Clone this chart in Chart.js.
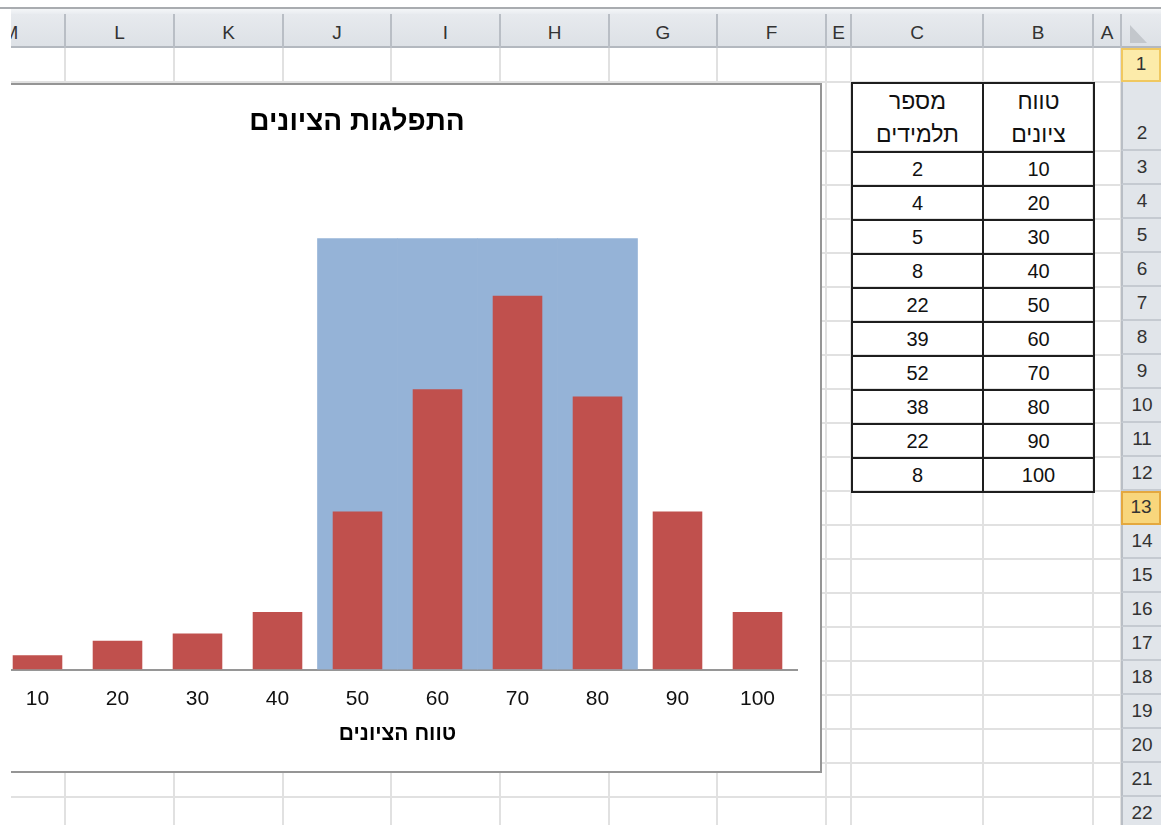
<!DOCTYPE html>
<html><head><meta charset="utf-8">
<script src="https://cdn.jsdelivr.net/npm/chart.js@4.4.1/dist/chart.umd.min.js"></script>
<style>
html,body{margin:0;padding:0;}
body{width:1161px;height:825px;overflow:hidden;background:#fff;position:relative;font-family:"Liberation Sans",Arial,"DejaVu Sans",sans-serif;}
.a{position:absolute;box-sizing:border-box;}
#tbl{position:absolute;left:851px;top:82px;border-collapse:collapse;table-layout:fixed;width:242px;}
#tbl td{border:2px solid #1e1e1e;padding:0;text-align:center;font-size:20px;color:#111;overflow:hidden;white-space:nowrap;}
#tbl td.h{vertical-align:bottom;line-height:33px;font-size:23px;}
</style></head><body>
<div id="sheet"></div>
<table id="tbl"><colgroup><col style="width:131px"><col style="width:111px"></colgroup><tbody id="tb"></tbody></table>
<div id="chartBox" class="a" style="left:-108px;top:83px;width:930px;height:690px;border:2px solid #959595;background:#fff;overflow:hidden;">
<canvas id="c" width="926" height="686"></canvas></div>
<div class="a" style="left:0;top:9px;width:11px;height:816px;background:#fff;"></div>
<script>
// ---- data ----
const gradeRanges = ['10','20','30','40','50','60','70','80','90','100'];
const studentCounts = [2, 4, 5, 8, 22, 39, 52, 38, 22, 8];
const highlightBand = [null, null, null, null, 60, 60, 60, 60, null, null];
const chartTitle = 'התפלגות הציונים';
const xAxisTitle = 'טווח הציונים';
const rangeHeader = ['טווח', 'ציונים'];
const countHeader = ['מספר', 'תלמידים'];
const columnLetters = ['M','L','K','J','I','H','G','F','E','C','B','A'];
const rowNumbers = [1,2,3,4,5,6,7,8,9,10,11,12,13,14,15,16,17,18,19,20,21,22];

// ---- sheet layout ----
const colEdges = [-44, 65, 174, 283, 391, 500, 609, 717, 826, 851, 983, 1093, 1121];
const rowTops = [48, 82];
for (let i = 2; i < rowNumbers.length + 1; i++) rowTops.push(151 + (i - 2) * 34);
const sheet = document.getElementById('sheet');
function box(l, t, w, h, css, txt) {
  const d = document.createElement('div');
  d.className = 'a';
  d.style.cssText = `left:${l}px;top:${t}px;width:${w}px;height:${h}px;` + (css || '');
  if (txt !== undefined) d.textContent = txt;
  sheet.appendChild(d);
  return d;
}
box(0, 7, 1161, 2, 'background:#a9acb0;');
box(0, 9, 1161, 5, 'background:linear-gradient(#f4f6f8,#e9ecf0);');
box(0, 14, 1161, 34, 'background:linear-gradient(#e7eaee,#dde1e6);border-bottom:2px solid #b3b8bf;');
for (let i = 0; i < columnLetters.length; i++) {
  const l = colEdges[i], r = colEdges[i + 1];
  box(l, 14, r - l, 34, 'display:flex;align-items:center;justify-content:center;font-size:19px;color:#333;padding-top:3px;', columnLetters[i]);
  box(r - 1, 14, 2, 34, 'background:#b9bec5;');
}
box(1130, 25, 17, 18, 'background:#c3c7cc;clip-path:polygon(0 0,0 100%,100% 100%);');
for (let i = 1; i < colEdges.length; i++) {
  box(colEdges[i] - 1, 48, 2, 777, 'background:#e1e1e1;');
}
for (let j = 1; j < rowTops.length; j++) {
  box(0, rowTops[j] - 1, 1121, 2, 'background:#e1e1e1;');
}
box(1121, 48, 40, 777, 'background:#e1e5ea;border-left:2px solid #b9bec5;');
for (let j = 0; j < rowNumbers.length; j++) {
  const t = rowTops[j], h = (rowTops[j + 1] || 831) - t;
  let css = 'display:flex;align-items:flex-end;justify-content:center;font-size:19px;color:#333;line-height:32px;border-bottom:2px solid #c5cad1;border-left:2px solid #b9bec5;';
  if (rowNumbers[j] === 1) css += 'background:#fcebaa;border:2px solid #f0c860;';
  if (rowNumbers[j] === 13) css += 'background:#f8d67c;border:2px solid #e4a83f;';
  box(1121, t, 40, h, css, String(rowNumbers[j]));
}

// ---- data table ----
let html = `<tr style="height:69px"><td class="h" dir="rtl">${countHeader.join('<br>')}</td><td class="h" dir="rtl">${rangeHeader.join('<br>')}</td></tr>`;
for (let i = 0; i < gradeRanges.length; i++) {
  html += `<tr style="height:34px"><td>${studentCounts[i]}</td><td>${gradeRanges[i]}</td></tr>`;
}
document.getElementById('tb').innerHTML = html;

// ---- chart ----
const FONT = '"Liberation Sans", Arial, "DejaVu Sans", sans-serif';
new Chart(document.getElementById('c'), {
  type: 'bar',
  data: {
    labels: gradeRanges,
    datasets: [
      { label: 'students', data: studentCounts, backgroundColor: '#c0504d', grouped: false,
        barPercentage: 0.62, categoryPercentage: 1.0, order: 1 },
      { label: 'band', data: highlightBand, backgroundColor: '#95b3d7', grouped: false,
        barPercentage: 1.0, categoryPercentage: 1.0, order: 2 }
    ]
  },
  options: {
    responsive: false,
    animation: false,
    layout: { padding: 0 },
    plugins: {
      legend: { display: false },
      tooltip: { enabled: false },
      title: { display: true, text: chartTitle, color: '#000',
        font: { family: FONT, size: 28, weight: 'bold' },
        padding: { top: 20.2, bottom: 99.5 } }
    },
    scales: {
      y: { display: true, min: 0, max: 60, position: 'left',
        grid: { display: false, drawTicks: false }, border: { display: false },
        ticks: { display: false },
        afterFit: (s) => { s.width = 103.5; } },
      y2: { type: 'linear', display: true, min: 0, max: 1, position: 'right',
        grid: { display: false, drawTicks: false }, border: { display: false },
        ticks: { display: false },
        afterFit: (s) => { s.width = 22.5; } },
      x: {
        grid: { display: false, drawTicks: false },
        border: { display: true, color: '#969696', width: 2 },
        ticks: { color: '#111', font: { family: FONT, size: 21 }, padding: 17.4, maxRotation: 0 },
        title: { display: true, text: xAxisTitle, color: '#000',
          font: { family: FONT, size: 21, weight: 'bold' }, padding: { top: 0, bottom: 24.4 } },
        afterFit: (s) => { s.height = 101.5; }
      }
    }
  }
});
</script>
</body></html>
